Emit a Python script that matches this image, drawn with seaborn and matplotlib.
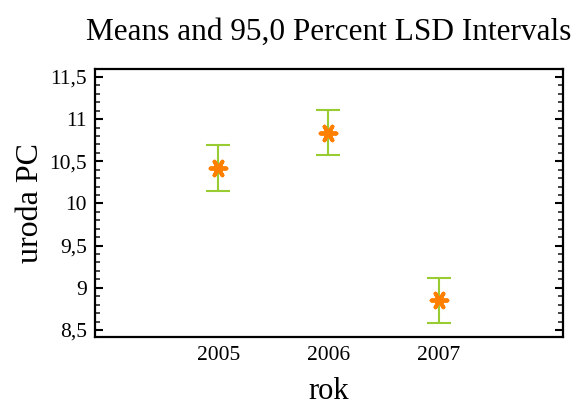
import matplotlib
matplotlib.use("Agg")
import matplotlib.pyplot as plt
from matplotlib.ticker import MultipleLocator, FuncFormatter
import seaborn as sns
import pandas as pd

# Group means and half-widths of the 95% LSD intervals
years = ["2005", "2006", "2007"]
means = [10.42, 10.84, 8.85]
half_width = [0.27, 0.27, 0.27]

df = pd.DataFrame({"rok": years, "uroda PC": means})

sns.set_theme(style="white")
plt.rcParams["font.family"] = ["Liberation Serif", "DejaVu Serif"]
plt.rcParams["text.color"] = "black"
plt.rcParams["axes.labelcolor"] = "black"

fig = plt.figure(figsize=(5.82, 4.07), dpi=100)
ax = fig.add_axes([0.1632, 0.1727, 0.8042, 0.657])

sns.scatterplot(data=df, x="rok", y="uroda PC", ax=ax, marker=(6, 2, 90),
                s=130, color="#FF8000", edgecolor="#FF8000", linewidth=2.8, zorder=3)
ax.errorbar(range(len(years)), means, yerr=half_width, fmt="none",
            ecolor="#99CC33", elinewidth=1.5, capsize=8.5, capthick=1.5, zorder=2)

ax.set_xlim(-1.12, 3.13)
ax.set_ylim(8.42, 11.59)

ax.yaxis.set_major_locator(MultipleLocator(0.5))
ax.yaxis.set_minor_locator(MultipleLocator(0.1))
ax.yaxis.set_major_formatter(FuncFormatter(lambda v, p: f"{v:g}".replace(".", ",")))

ax.tick_params(axis="y", which="major", direction="in", length=6, width=1.5,
               left=True, right=True, labelsize=15.5, colors="black", pad=6)
ax.tick_params(axis="y", which="minor", direction="in", length=3.5, width=1.2,
               left=True, right=True)
ax.tick_params(axis="x", which="both", length=0, labelsize=15.5, colors="black", pad=7)

for sp in ax.spines.values():
    sp.set_color("black")
    sp.set_linewidth(1.6)

ax.set_xlabel("rok", fontsize=22, labelpad=8)
ax.set_ylabel("uroda PC", fontsize=23, labelpad=3)
ax.set_title("Means and 95,0 Percent LSD Intervals", fontsize=22.5, pad=21)

fig.savefig("out.png", dpi=100)
